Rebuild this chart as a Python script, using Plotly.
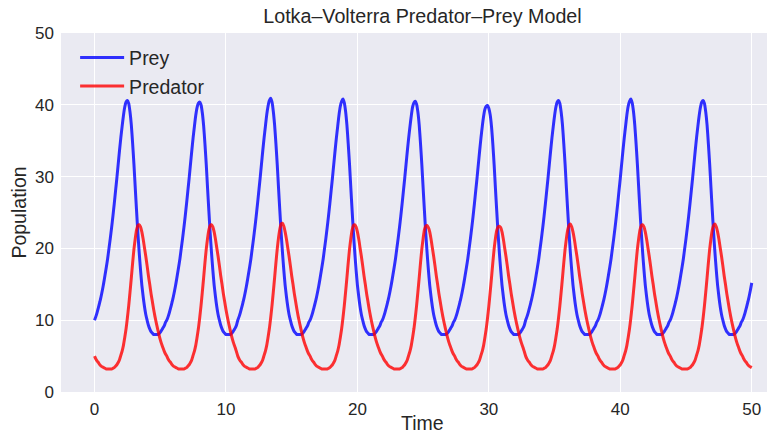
import plotly.graph_objects as go

# Sampling grid (time units), 0.0 .. 50.0 every 0.1
time = [round(i * 0.1, 1) for i in range(501)]

# Prey population, cycle by cycle
prey_c1 = [10.0, 10.5, 11.1, 11.8, 12.5, 13.3, 14.2, 15.2, 16.3, 17.4,
           18.6, 20.0, 21.4, 22.9, 24.5, 26.2, 28.0, 29.8, 31.7, 33.6,
           35.4, 37.0, 38.5, 39.7, 40.4, 40.6, 40.2, 39.0, 37.2, 34.6,
           31.7, 28.4, 25.2, 22.1, 19.4, 17.0, 14.9, 13.3, 11.9, 10.8,
           10.0, 9.3, 8.8, 8.4, 8.2, 8.0, 8.0, 8.0, 8.0, 8.1,
           8.3, 8.6, 8.9, 9.2, 9.7]
prey_c2 = [10.0, 10.5, 11.1, 11.8, 12.5, 13.3, 14.2, 15.2, 16.3, 17.4,
           18.6, 20.0, 21.4, 22.9, 24.5, 26.2, 28.0, 29.8, 31.7, 33.6,
           35.4, 37.0, 38.5, 39.6, 40.2, 40.4, 40.0, 38.9, 37.1, 34.6,
           31.7, 28.4, 25.2, 22.1, 19.4, 17.0, 14.9, 13.3, 11.9, 10.8,
           10.0, 9.3, 8.8, 8.4, 8.2, 8.0, 8.0, 8.0, 8.0, 8.1,
           8.3, 8.6, 8.9, 9.3]
prey_c3 = [10.0, 10.5, 11.1, 11.8, 12.5, 13.3, 14.2, 15.2, 16.3, 17.4,
           18.6, 20.0, 21.4, 22.9, 24.5, 26.2, 28.0, 29.8, 31.7, 33.6,
           35.4, 37.0, 38.6, 39.8, 40.6, 40.9, 40.4, 39.1, 37.2, 34.6,
           31.7, 28.4, 25.2, 22.1, 19.4, 17.0, 14.9, 13.3, 11.9, 10.8,
           10.0, 9.3, 8.8, 8.4, 8.2, 8.0, 8.0, 8.0, 8.0, 8.1,
           8.3, 8.6, 8.9, 9.2, 9.7]
prey_c4 = [10.0, 10.5, 11.1, 11.8, 12.5, 13.3, 14.2, 15.2, 16.3, 17.4,
           18.6, 20.0, 21.4, 22.9, 24.5, 26.2, 28.0, 29.8, 31.7, 33.6,
           35.4, 37.0, 38.6, 39.8, 40.5, 40.8, 40.3, 39.1, 37.2, 34.6,
           31.7, 28.4, 25.2, 22.1, 19.4, 17.0, 14.9, 13.3, 11.9, 10.8,
           10.0, 9.3, 8.8, 8.4, 8.2, 8.0, 8.0, 8.0, 8.0, 8.1,
           8.3, 8.6, 8.9, 9.2, 9.7]
prey_c5 = [10.0, 10.5, 11.1, 11.8, 12.5, 13.3, 14.2, 15.2, 16.3, 17.4,
           18.6, 20.0, 21.4, 22.9, 24.5, 26.2, 28.0, 29.8, 31.7, 33.6,
           35.4, 37.0, 38.5, 39.7, 40.3, 40.5, 40.1, 39.0, 37.2, 34.6,
           31.7, 28.4, 25.2, 22.1, 19.4, 17.0, 14.9, 13.3, 11.9, 10.8,
           10.0, 9.3, 8.8, 8.4, 8.2, 8.0, 8.0, 8.0, 8.0, 8.1,
           8.3, 8.6, 8.9, 9.2, 9.7]
prey_c6 = [10.0, 10.5, 11.1, 11.8, 12.5, 13.3, 14.2, 15.2, 16.3, 17.4,
           18.6, 20.0, 21.4, 22.9, 24.5, 26.2, 28.0, 29.8, 31.7, 33.6,
           35.4, 37.0, 38.4, 39.4, 39.8, 39.9, 39.5, 38.6, 37.0, 34.6,
           31.7, 28.4, 25.2, 22.1, 19.4, 17.0, 14.9, 13.3, 11.9, 10.8,
           10.0, 9.3, 8.8, 8.4, 8.2, 8.0, 8.0, 8.0, 8.0, 8.1,
           8.3, 8.6, 8.9, 9.3]
prey_c7 = [10.0, 10.5, 11.1, 11.8, 12.5, 13.3, 14.2, 15.2, 16.3, 17.4,
           18.6, 20.0, 21.4, 22.9, 24.5, 26.2, 28.0, 29.8, 31.7, 33.6,
           35.4, 37.0, 38.5, 39.7, 40.4, 40.6, 40.2, 39.0, 37.2, 34.6,
           31.7, 28.4, 25.2, 22.1, 19.4, 17.0, 14.9, 13.3, 11.9, 10.8,
           10.0, 9.3, 8.8, 8.4, 8.2, 8.0, 8.0, 8.0, 8.0, 8.1,
           8.3, 8.6, 8.9, 9.2, 9.7]
prey_c8 = [10.0, 10.5, 11.1, 11.8, 12.5, 13.3, 14.2, 15.2, 16.3, 17.4,
           18.6, 20.0, 21.4, 22.9, 24.5, 26.2, 28.0, 29.8, 31.7, 33.6,
           35.4, 37.0, 38.6, 39.8, 40.5, 40.8, 40.3, 39.1, 37.2, 34.6,
           31.7, 28.4, 25.2, 22.1, 19.4, 17.0, 14.9, 13.3, 11.9, 10.8,
           10.0, 9.3, 8.8, 8.4, 8.2, 8.0, 8.0, 8.0, 8.0, 8.1,
           8.3, 8.6, 8.9, 9.2, 9.7]
prey_c9 = [10.0, 10.5, 11.1, 11.8, 12.5, 13.3, 14.2, 15.2, 16.3, 17.4,
           18.6, 20.0, 21.4, 22.9, 24.5, 26.2, 28.0, 29.8, 31.7, 33.6,
           35.4, 37.0, 38.5, 39.7, 40.4, 40.6, 40.2, 39.0, 37.2, 34.6,
           31.7, 28.4, 25.2, 22.1, 19.4, 17.0, 14.9, 13.3, 11.9, 10.8,
           10.0, 9.3, 8.8, 8.4, 8.2, 8.0, 8.0, 8.0, 8.0, 8.1,
           8.3, 8.6, 8.9, 9.2, 9.7]
prey_c10 = [10.0, 10.5, 11.1, 11.8, 12.5, 13.3, 14.2, 15.2]

# Predator population, cycle by cycle
pred_c1 = [5.0, 4.6, 4.3, 4.1, 3.8, 3.6, 3.5, 3.4, 3.3, 3.2,
           3.2, 3.2, 3.2, 3.2, 3.3, 3.4, 3.6, 3.8, 4.1, 4.5,
           5.1, 5.7, 6.5, 7.6, 8.8, 10.3, 12.0, 13.9, 15.9, 18.0,
           19.9, 21.4, 22.6, 23.2, 23.3, 23.0, 22.3, 21.3, 20.1, 18.9,
           17.6, 16.2, 15.0, 13.7, 12.6, 11.5, 10.5, 9.6, 8.8, 8.0,
           7.3, 6.7, 6.2, 5.7, 5.3]
pred_c2 = [5.0, 4.6, 4.3, 4.1, 3.8, 3.6, 3.5, 3.4, 3.3, 3.2,
           3.2, 3.2, 3.2, 3.2, 3.3, 3.4, 3.6, 3.8, 4.1, 4.5,
           5.1, 5.7, 6.5, 7.6, 8.8, 10.3, 12.0, 13.9, 15.9, 18.0,
           19.9, 21.4, 22.6, 23.2, 23.3, 23.0, 22.3, 21.3, 20.1, 18.9,
           17.6, 16.2, 15.0, 13.7, 12.6, 11.5, 10.5, 9.6, 8.8, 8.0,
           7.3, 6.7, 6.2, 5.6]
pred_c3 = [5.0, 4.6, 4.3, 4.1, 3.8, 3.6, 3.5, 3.4, 3.3, 3.2,
           3.2, 3.2, 3.2, 3.2, 3.3, 3.4, 3.6, 3.8, 4.1, 4.5,
           5.1, 5.7, 6.5, 7.6, 8.8, 10.3, 12.0, 13.9, 15.9, 18.0,
           19.9, 21.5, 22.7, 23.4, 23.5, 23.1, 22.3, 21.3, 20.1, 18.9,
           17.6, 16.2, 15.0, 13.7, 12.6, 11.5, 10.5, 9.6, 8.8, 8.0,
           7.3, 6.7, 6.2, 5.7, 5.3]
pred_c4 = [5.0, 4.6, 4.3, 4.1, 3.8, 3.6, 3.5, 3.4, 3.3, 3.2,
           3.2, 3.2, 3.2, 3.2, 3.3, 3.4, 3.6, 3.8, 4.1, 4.5,
           5.1, 5.7, 6.5, 7.6, 8.8, 10.3, 12.0, 13.9, 15.9, 18.0,
           19.9, 21.4, 22.6, 23.2, 23.3, 23.0, 22.3, 21.3, 20.1, 18.9,
           17.6, 16.2, 15.0, 13.7, 12.6, 11.5, 10.5, 9.6, 8.8, 8.0,
           7.3, 6.7, 6.2, 5.7, 5.3]
pred_c5 = [5.0, 4.6, 4.3, 4.1, 3.8, 3.6, 3.5, 3.4, 3.3, 3.2,
           3.2, 3.2, 3.2, 3.2, 3.3, 3.4, 3.6, 3.8, 4.1, 4.5,
           5.1, 5.7, 6.5, 7.6, 8.8, 10.3, 12.0, 13.9, 15.9, 18.0,
           19.9, 21.4, 22.6, 23.1, 23.2, 22.9, 22.3, 21.3, 20.1, 18.9,
           17.6, 16.2, 15.0, 13.7, 12.6, 11.5, 10.5, 9.6, 8.8, 8.0,
           7.3, 6.7, 6.2, 5.7, 5.3]
pred_c6 = [5.0, 4.6, 4.3, 4.1, 3.8, 3.6, 3.5, 3.4, 3.3, 3.2,
           3.2, 3.2, 3.2, 3.2, 3.3, 3.4, 3.6, 3.8, 4.1, 4.5,
           5.1, 5.7, 6.5, 7.6, 8.8, 10.3, 12.0, 13.9, 15.9, 18.0,
           19.9, 21.4, 22.5, 23.0, 23.1, 22.9, 22.3, 21.3, 20.1, 18.9,
           17.6, 16.2, 15.0, 13.7, 12.6, 11.5, 10.5, 9.6, 8.8, 8.0,
           7.3, 6.7, 6.2, 5.6]
pred_c7 = [5.0, 4.6, 4.3, 4.1, 3.8, 3.6, 3.5, 3.4, 3.3, 3.2,
           3.2, 3.2, 3.2, 3.2, 3.3, 3.4, 3.6, 3.8, 4.1, 4.5,
           5.1, 5.7, 6.5, 7.6, 8.8, 10.3, 12.0, 13.9, 15.9, 18.0,
           19.9, 21.4, 22.6, 23.2, 23.4, 23.0, 22.3, 21.3, 20.1, 18.9,
           17.6, 16.2, 15.0, 13.7, 12.6, 11.5, 10.5, 9.6, 8.8, 8.0,
           7.3, 6.7, 6.2, 5.7, 5.3]
pred_c8 = [5.0, 4.6, 4.3, 4.1, 3.8, 3.6, 3.5, 3.4, 3.3, 3.2,
           3.2, 3.2, 3.2, 3.2, 3.3, 3.4, 3.6, 3.8, 4.1, 4.5,
           5.1, 5.7, 6.5, 7.6, 8.8, 10.3, 12.0, 13.9, 15.9, 18.0,
           19.9, 21.4, 22.6, 23.2, 23.3, 23.0, 22.3, 21.3, 20.1, 18.9,
           17.6, 16.2, 15.0, 13.7, 12.6, 11.5, 10.5, 9.6, 8.8, 8.0,
           7.3, 6.7, 6.2, 5.7, 5.3]
pred_c9 = [5.0, 4.6, 4.3, 4.1, 3.8, 3.6, 3.5, 3.4, 3.3, 3.2,
           3.2, 3.2, 3.2, 3.2, 3.3, 3.4, 3.6, 3.8, 4.1, 4.5,
           5.1, 5.7, 6.5, 7.6, 8.8, 10.3, 12.0, 13.9, 15.9, 18.0,
           19.9, 21.4, 22.6, 23.2, 23.4, 23.0, 22.3, 21.3, 20.1, 18.9,
           17.6, 16.2, 15.0, 13.7, 12.6, 11.5, 10.5, 9.6, 8.8, 8.0,
           7.3, 6.7, 6.2, 5.7, 5.3]
pred_c10 = [5.0, 4.6, 4.3, 4.1, 3.8, 3.6, 3.5, 3.4]

x_ticks = [0, 10, 20, 30, 40, 50]
y_ticks = [0, 10, 20, 30, 40, 50]

prey = (prey_c1 + prey_c2 + prey_c3 + prey_c4 + prey_c5 + prey_c6
        + prey_c7 + prey_c8 + prey_c9 + prey_c10)
predator = (pred_c1 + pred_c2 + pred_c3 + pred_c4 + pred_c5 + pred_c6
            + pred_c7 + pred_c8 + pred_c9 + pred_c10)

FONT = "Arial, 'Liberation Sans', sans-serif"
TXT = "#262626"

fig = go.Figure()
fig.add_trace(go.Scatter(x=time, y=prey, mode="lines", name="Prey",
                         legendgroup="a",
                         line=dict(color="rgba(0,0,255,0.8)", width=3, shape="spline", smoothing=0.6)))
fig.add_trace(go.Scatter(x=time, y=predator, mode="lines", name="Predator",
                         legendgroup="b",
                         line=dict(color="rgba(255,0,0,0.8)", width=3, shape="spline", smoothing=0.6)))

fig.update_layout(
    width=771, height=436, autosize=False,
    margin=dict(l=61, r=4, t=33, b=44, pad=0, autoexpand=False),
    paper_bgcolor="white", plot_bgcolor="#EAEAF2",
    font=dict(family=FONT, color=TXT, size=17),
    title=dict(text="Lotka–Volterra Predator–Prey Model", x=0.512, xref="paper",
               xanchor="center", y=1 - 16 / 436, yref="container", yanchor="middle",
               font=dict(size=19.7, color=TXT, family=FONT), automargin=False),
    xaxis=dict(range=[-2.55, 51.16], tickvals=x_ticks, ticktext=[str(v) for v in x_ticks],
               showgrid=True, gridcolor="white", gridwidth=1.2, zeroline=False,
               showline=False, ticks="", ticklabelstandoff=5, automargin=False,
               tickfont=dict(size=17, color=TXT)),
    yaxis=dict(range=[0, 50], tickvals=y_ticks, ticktext=[str(v) for v in y_ticks],
               showgrid=True, gridcolor="white", gridwidth=1.2, zeroline=False,
               showline=False, ticks="", ticklabelstandoff=6, automargin=False,
               tickfont=dict(size=17, color=TXT),
               title=dict(text="Population", font=dict(size=19.5, color=TXT), standoff=3)),
    legend=dict(x=0.02, y=0.985, xanchor="left", yanchor="top",
                bgcolor="rgba(0,0,0,0)", borderwidth=0, itemwidth=44,
                font=dict(size=19.5, color=TXT, family=FONT),
                traceorder="grouped", tracegroupgap=0),
    annotations=[dict(text="Time", xref="paper", yref="paper", x=0.512, y=-0.1215,
                      xanchor="center", yanchor="bottom", showarrow=False,
                      font=dict(size=19.5, color=TXT, family=FONT))],
    showlegend=True,
)

fig.write_html("out.html")
